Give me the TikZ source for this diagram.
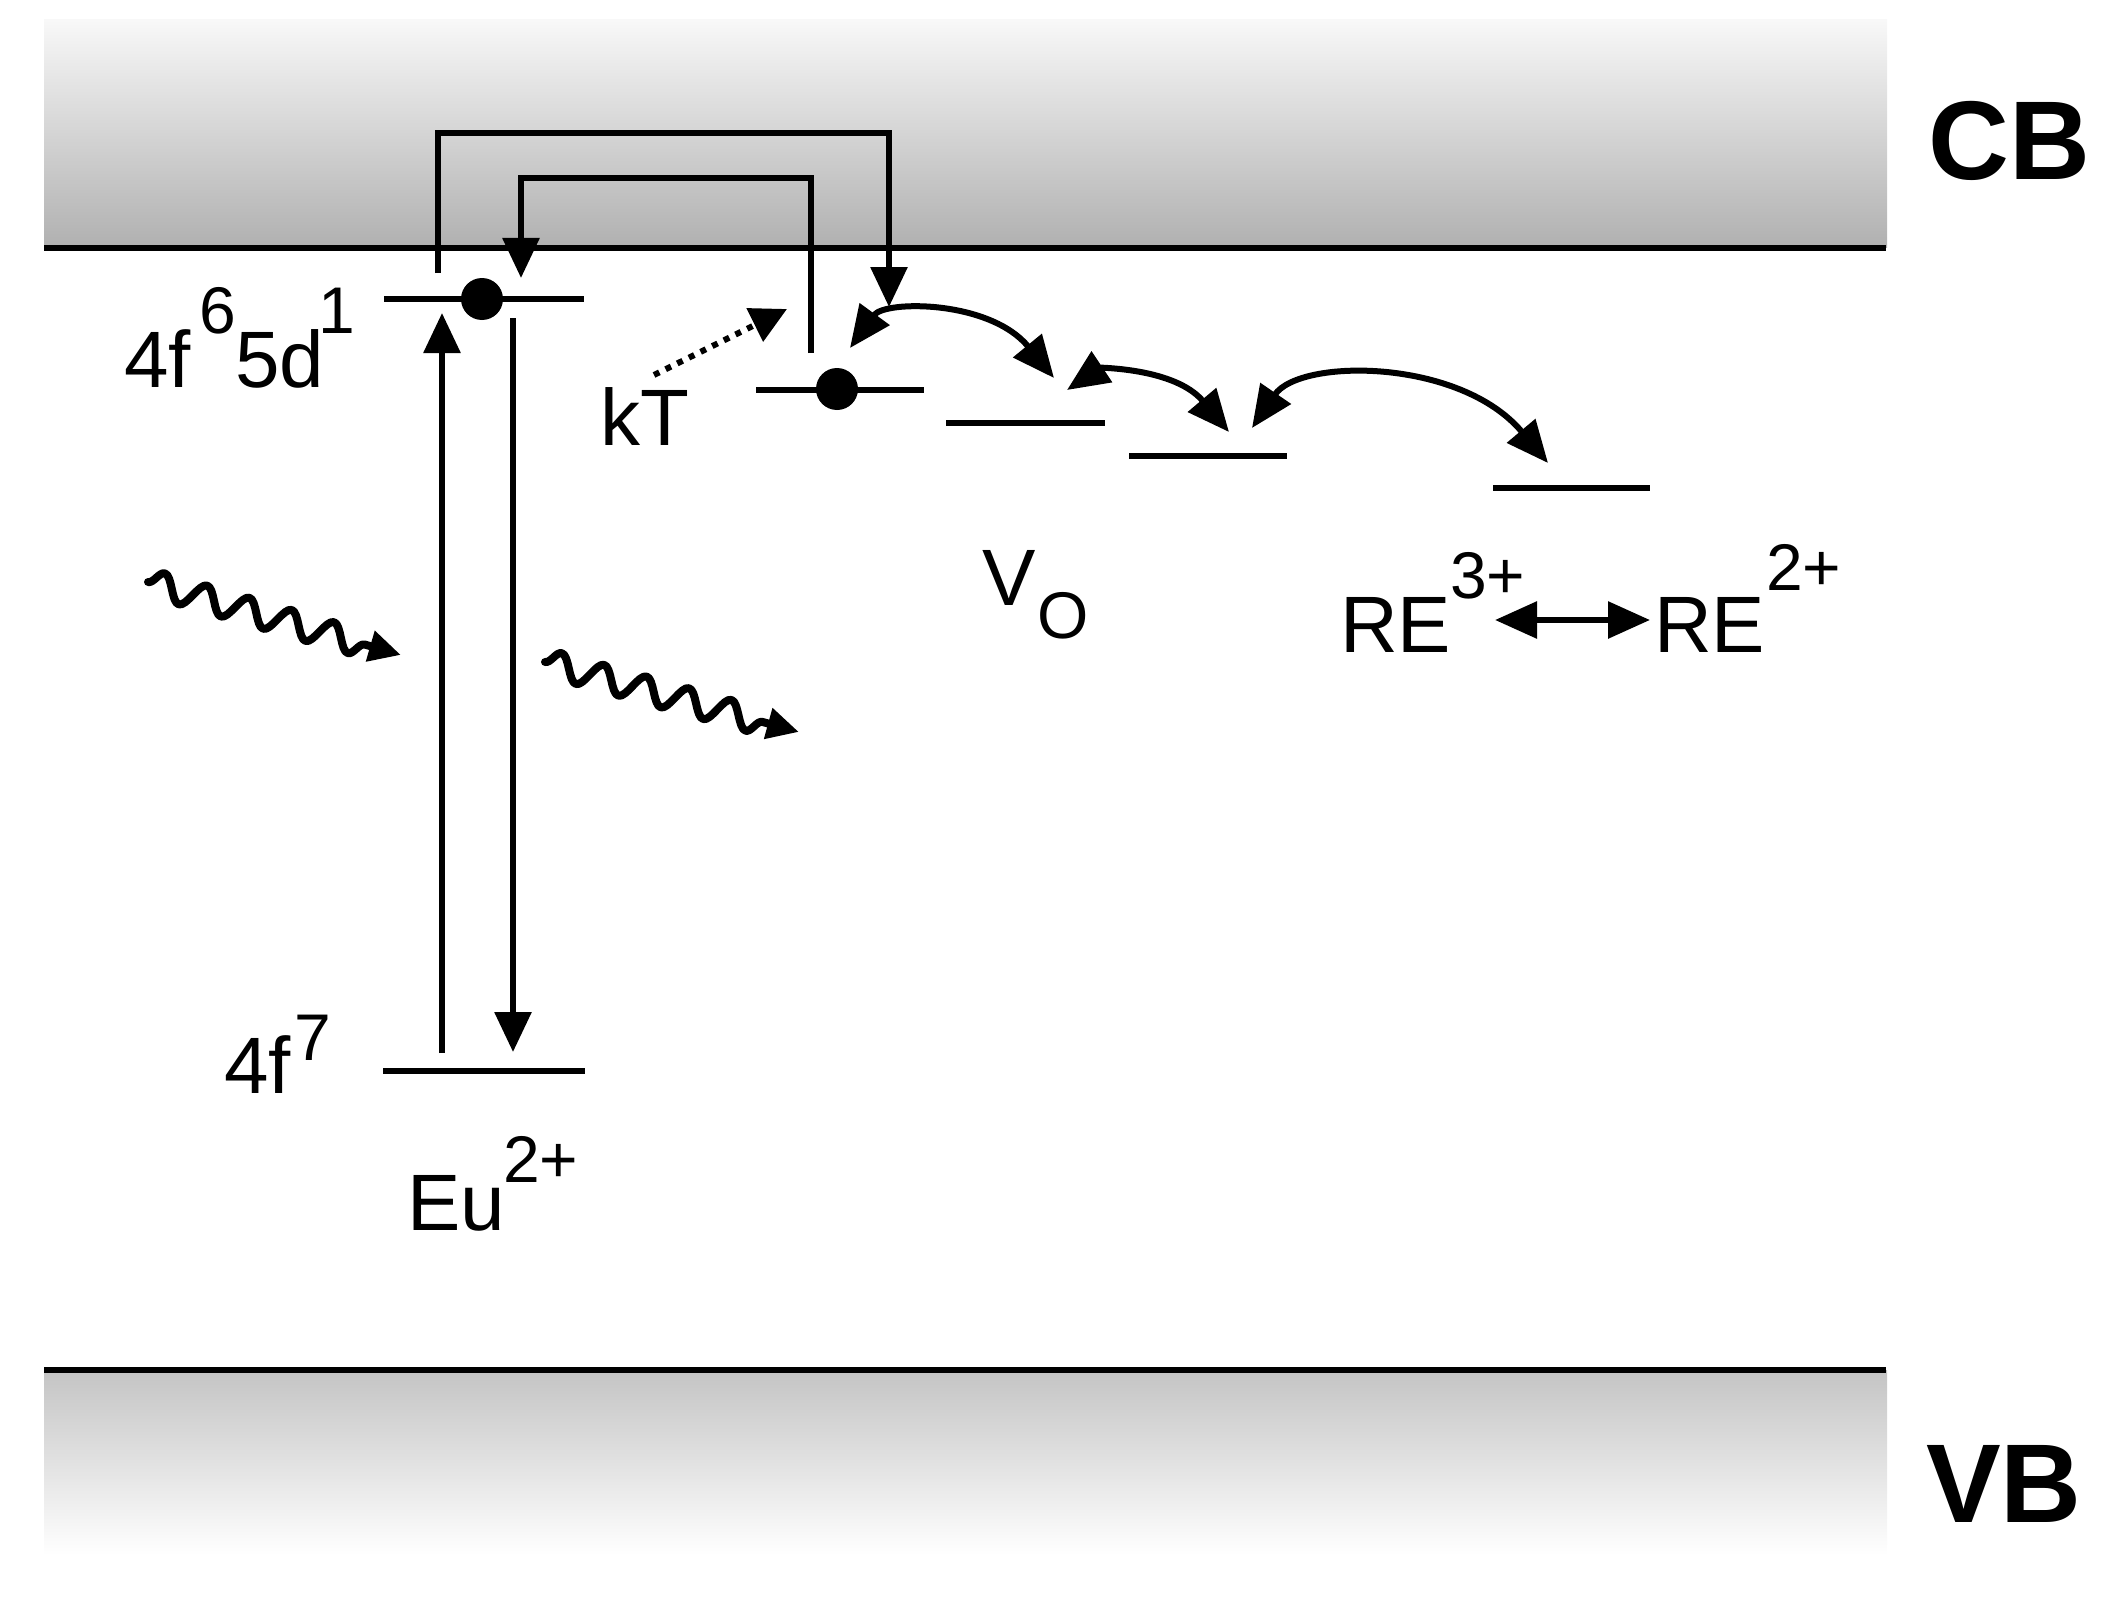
\documentclass[tikz,border=0pt]{standalone}
\usepackage{fontspec}
\setmainfont{Liberation Sans}
\usetikzlibrary{arrows.meta,decorations.pathmorphing}
\definecolor{cbtop}{HTML}{F8F8F8}
\definecolor{cbbot}{HTML}{B0B0B0}
\definecolor{vbtop}{HTML}{C4C4C4}
\begin{document}
\begin{tikzpicture}[x=1pt,y=-1pt,
 lvl/.style={line width=6pt},
 conn/.style={line width=6pt},
 tipp/.style={-{Triangle[width=36pt,length=40pt]}},
 dtip/.style={{Triangle[width=36pt,length=42pt]}-{Triangle[width=36pt,length=42pt]}},
 mtxt/.style={inner sep=0pt, anchor=base west, font=\fontsize{80}{90}\selectfont},
 stxt/.style={inner sep=0pt, anchor=base west, font=\fontsize{66}{76}\selectfont},
 btxt/.style={inner sep=0pt, anchor=base west, font=\fontsize{112}{120}\selectfont\bfseries},
 wave/.style={line width=8pt, line join=round, line cap=round, decorate, decoration={snake, segment length=44pt, amplitude=13pt, post length=24pt}, -{Triangle[width=30pt,length=32pt]}},
 dotc/.style={circle, fill=black, inner sep=0pt, minimum size=42pt}
]
\useasboundingbox (0,0) rectangle (2110,1608);
% bands
\shade[top color=cbtop, bottom color=cbbot] (44,20) rectangle (1887,248);
\draw[lvl] (44,248) -- (1886,248);
\shade[top color=vbtop, bottom color=white] (44,1370) rectangle (1887,1555);
\draw[lvl] (44,1370) -- (1886,1370);
\node[btxt] (cb) at (1928,180) {CB};
\node[btxt] (vb) at (1926,1522) {VB};

% levels
\draw[lvl] (384,299) -- (584,299);
\draw[lvl] (383,1071) -- (585,1071);
\draw[lvl] (756,390) -- (924,390);
\draw[lvl] (946,423) -- (1105,423);
\draw[lvl] (1129,456) -- (1287,456);
\draw[lvl] (1493,488) -- (1650,488);
\node[dotc] (e1) at (482,299) {};
\node[dotc] (e2) at (837,389) {};

% coordinates
\coordinate (upS) at (442,1053);
\coordinate (upE) at (442,313);
\coordinate (dnS) at (513,318);
\coordinate (dnE) at (513,1052);
\coordinate (obS) at (438,273);
\coordinate (obC) at (889,133);
\coordinate (obE) at (889,307);
\coordinate (ibS) at (811,353);
\coordinate (ibC) at (521,178);
\coordinate (ibE) at (521,278);
\coordinate (ktS) at (654,375);
\coordinate (ktE) at (787,309);
\coordinate (aS) at (850,348);
\coordinate (aE) at (1054,378);
\coordinate (bS) at (1067,390);
\coordinate (bE) at (1229,432);
\coordinate (cS) at (1252,428);
\coordinate (cE) at (1548,463);
\coordinate (w1S) at (148,582);
\coordinate (w1E) at (401,655);
\coordinate (w2S) at (545,662);
\coordinate (w2E) at (799,732);

% vertical transitions
\draw[conn,tipp] (upS) -- (upE);
\draw[conn,tipp] (dnS) -- (dnE);
% brackets
\draw[conn,tipp] (obS) |- (obC) -- (obE);
\draw[conn,tipp] (ibS) |- (ibC) -- (ibE);
% kT
\draw[line width=6pt, dash pattern=on 6pt off 7pt, -{Triangle[width=36pt,length=36pt]}] (ktS) -- (ktE);
% hopping arcs
\draw[line width=6pt,dtip] (aS) .. controls (885,300) and (990,300) .. (aE);
\draw[line width=6pt,dtip] (bS) .. controls (1100,368) and (1175,368) .. (bE);
\draw[line width=6pt,dtip] (cS) .. controls (1300,358) and (1460,358) .. (cE);
% waves
\draw[wave] (w1S) -- (w1E);
\draw[wave] (w2S) -- (w2E);

% labels
\node[mtxt] (l4f) at (124,387) {4f};
\node[stxt] (l6) at (199,333) {6};
\node[mtxt] (l5d) at (235,387) {5d};
\node[stxt] (l1) at (318,333) {1};
\node[mtxt] (kt) at (600,445) {kT};
\node[mtxt] (l4fb) at (224,1093) {4f};
\node[stxt] (l7) at (294,1060) {7};
\node[mtxt] (eu) at (407,1230) {Eu};
\node[stxt] (eus) at (503,1182) {2+};
\node[mtxt] (vo) at (982,605) {V};
\node[stxt] (vos) at (1037,638) {O};
\node[mtxt] (re3) at (1340,652) {RE};
\node[stxt] (re3s) at (1450,598) {3+};
\node[mtxt] (re2) at (1654,652) {RE};
\node[stxt] (re2s) at (1766,590) {2+};
\coordinate (reL) at (1495,620);
\coordinate (reR) at (1650,620);
\draw[conn,dtip] (reL) -- (reR);
\end{tikzpicture}
\end{document}
